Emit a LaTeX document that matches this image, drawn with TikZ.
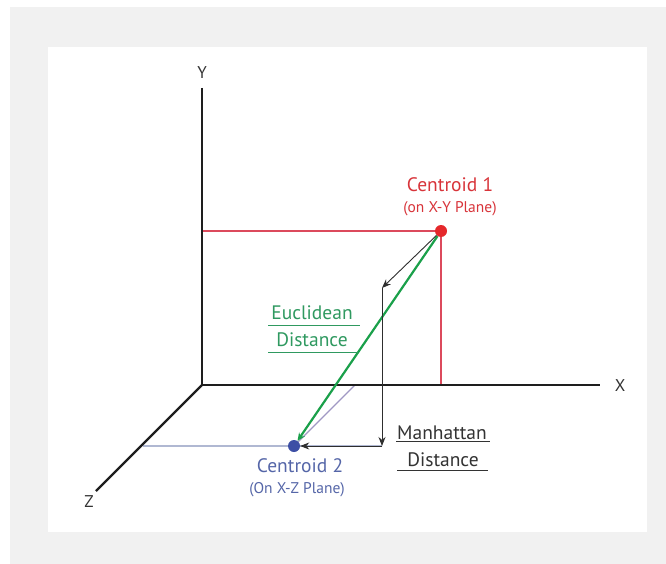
\documentclass[tikz,border=0pt]{standalone}
\usepackage{fontspec}
\setmainfont{PT Sans}
\usetikzlibrary{arrows.meta}
\definecolor{bggray}{HTML}{F1F1F1}
\definecolor{axisc}{HTML}{1E1E1E}
\definecolor{redtxt}{HTML}{D8343A}
\definecolor{reddot}{HTML}{E5282B}
\definecolor{redln}{HTML}{DC4A5C}
\definecolor{greenln}{HTML}{1AA04A}
\definecolor{greentxt}{HTML}{2F9960}
\definecolor{bluedot}{HTML}{3D4FA5}
\definecolor{bluetxt}{HTML}{5566A8}
\definecolor{projh}{HTML}{B0B8D2}
\definecolor{projd}{HTML}{A098C4}
\definecolor{arrc}{HTML}{2E2E2E}
\definecolor{txtc}{HTML}{333333}
\tikzset{
  axis/.style={draw=axisc, line width=2.4pt},
  axlabel/.style={text=txtc, font=\fontsize{17}{19}\selectfont, inner sep=0pt},
  redline/.style={draw=redln, line width=1.3pt},
  dot/.style={circle, minimum size=12pt, inner sep=0pt},
  arr/.style={draw=arrc, line width=0.9pt, -{Stealth[length=9pt,width=7pt]}},
  biglab/.style={font=\fontsize{19.5}{22}\selectfont, inner sep=0pt},
  smalllab/.style={font=\fontsize{15.5}{17}\selectfont, inner sep=0pt},
  uline/.style={line width=0.8pt}
}
\begin{document}
\begin{tikzpicture}[x=1pt,y=-1pt]
\useasboundingbox (0,0) rectangle (666,564);
\fill[white] (0,0) rectangle (666,564);
\fill[bggray] (10,7) rectangle (666,564);
\fill[white] (48,47) rectangle (647,532);

% coordinates
\coordinate (O) at (202,385);
\coordinate (Ytop) at (202,88);
\coordinate (Xend) at (600,385);
\coordinate (Zend) at (96,491);
\coordinate (C1y) at (202,231);
\coordinate (C1x) at (441,385);
\coordinate (C2z) at (143,446);
\coordinate (C2x) at (355,385);
\coordinate (K) at (382,288);
\coordinate (M) at (382,446);

% projection lines
\draw[redline] (C1y) -- (441,231) -- (C1x);
\draw[draw=projh, line width=1.2pt] (C2z) -- (M);
\draw[draw=projd, line width=1.2pt] (294,446) -- (C2x);

% axes
\draw[axis] (Ytop) -- (O) -- (Xend);
\draw[axis] (O) -- (Zend);
\node[axlabel] (Ylab) at (202,73) {Y};
\node[axlabel] (Xlab) at (620,386) {X};
\node[axlabel] (Zlab) at (89,502) {Z};

% centroids
\node[dot, fill=reddot] (C1) at (441,231) {};
\node[dot, fill=bluedot] (C2) at (294,446) {};

% distances
\draw[draw=greenln, line width=2.2pt, -{Stealth[length=8pt,width=7pt]}] (C1) -- (C2);
\draw[arr] (C1) -- (K);
\draw[arr] (K) -- (M);
\draw[arr] (M) -- (C2);

% labels
\node[biglab, text=redtxt] (t1) at (450,185) {Centroid 1};
\node[smalllab, text=redtxt] (t1b) at (450,209) {(on X-Y Plane)};
\node[biglab, text=bluetxt] (t2) at (300,466) {Centroid 2};
\node[smalllab, text=bluetxt] (t2b) at (297,490) {(On X-Z Plane)};

\node[biglab, text=greentxt] (eu1) at (312,313) {Euclidean};
\node[biglab, text=greentxt] (eu2) at (312,340) {Distance};
\draw[draw=greentxt, uline] (268,325) -- (360,325);
\draw[draw=greentxt, uline] (268,352) -- (358,352);

\node[biglab, text=txtc] (mh1) at (442,433) {Manhattan};
\node[biglab, text=txtc] (mh2) at (443,460) {Distance};
\draw[draw=txtc, uline] (396,441) -- (490,441);
\draw[draw=txtc, uline] (397,470) -- (488,470);
\end{tikzpicture}
\end{document}
